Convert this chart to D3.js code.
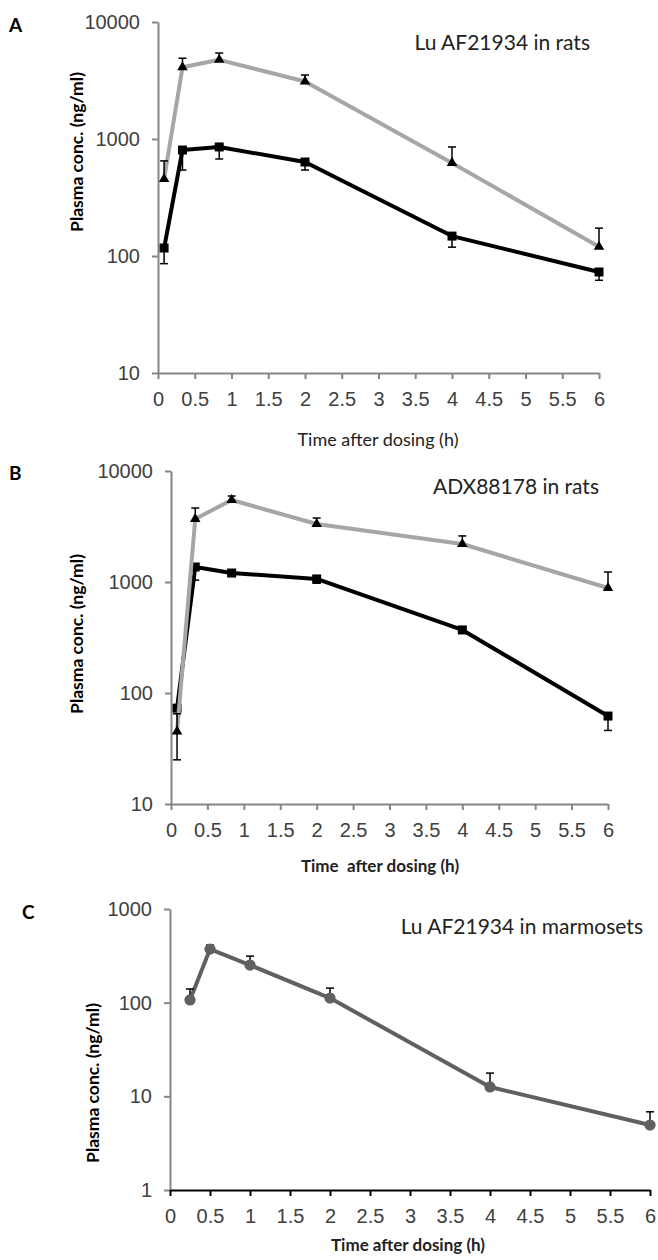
<!DOCTYPE html>
<html>
<head>
<meta charset="utf-8">
<script src="https://cdn.jsdelivr.net/npm/d3@7"></script>
<style>
  body { margin: 0; background: #fff; }
  svg { display: block; font-family: Lato, "Open Sans", sans-serif; }
</style>
</head>
<body>
<svg id="chart" width="658" height="1260"></svg>
<script>
// sampling times (h)
const ratTimes = [0.083, 0.333, 0.833, 2, 4, 6];
const marmosetTimes = [0.25, 0.5, 1, 2, 4, 6];

// A: Lu AF21934 in rats
const luRatHigh = [455, 4100, 4750, 3100, 625, 120];
const luRatHighErr = [195, 800, 680, 420, 230, 53];
const luRatLow = [117, 805, 855, 636, 148, 73];
const luRatLowErr = [31, 262, 180, 93, 29, 11];

// B: ADX88178 in rats
const adxRatHigh = [45, 3700, 5480, 3330, 2200, 883];
const adxRatHighErr = [20, 940, 470, 440, 400, 347];
const adxRatLow = [73, 1365, 1205, 1065, 370, 62];
const adxRatLowErr = [48, 325, 80, 90, 25, 16];

// C: Lu AF21934 in marmosets
const luMarmoset = [107, 373, 252, 112, 12.6, 4.94];
const luMarmosetErr = [33, 39, 62, 31, 5.1, 1.9];

const xTicks = [0, 0.5, 1, 1.5, 2, 2.5, 3, 3.5, 4, 4.5, 5, 5.5, 6];
const ratYTicks = [10, 100, 1000, 10000];
const marmosetYTicks = [1, 10, 100, 1000];

const svg = d3.select("#chart");

const panels = [
    {
        letter: "A", letterX: 9, letterY: 32,
        left: 158, right: 599, top: 22, bottom: 373,
        yDomain: [10, 10000], yTicks: ratYTicks,
        title: "Lu AF21934 in rats", titleX: 590, titleY: 50,
        xLabel: "Time after dosing (h)", xLabelBold: false, xLabelX: 378, xLabelY: 446,
        yLabelX: 83, yLabelY: 152, xAxisColor: "#868686",
        series: [
            { t: ratTimes, v: luRatLow, err: luRatLowErr, dir: -1, color: "#000", symbol: d3.symbolSquare, size: 81, fill: "#000" },
            { t: ratTimes, v: luRatHigh, err: luRatHighErr, dir: 1, color: "#a6a6a6", symbol: d3.symbolTriangle, size: 48, fill: "#000" }
        ]
    },
    {
        letter: "B", letterX: 9, letterY: 480,
        left: 171, right: 608, top: 471, bottom: 804,
        yDomain: [10, 10000], yTicks: ratYTicks,
        title: "ADX88178 in rats", titleX: 599, titleY: 494,
        xLabel: "Time  after dosing (h)", xLabelBold: true, xLabelX: 380, xLabelY: 872,
        yLabelX: 83, yLabelY: 634, xAxisColor: "#868686",
        series: [
            { t: ratTimes, v: adxRatLow, err: adxRatLowErr, dir: -1, color: "#000", symbol: d3.symbolSquare, size: 81, fill: "#000" },
            { t: ratTimes, v: adxRatHigh, err: adxRatHighErr, dir: 1, color: "#a6a6a6", symbol: d3.symbolTriangle, size: 48, fill: "#000" }
        ]
    },
    {
        letter: "C", letterX: 22, letterY: 919,
        left: 170, right: 650, top: 909, bottom: 1190,
        yDomain: [1, 1000], yTicks: marmosetYTicks,
        title: "Lu AF21934 in marmosets", titleX: 643, titleY: 934,
        xLabel: "Time after dosing (h)", xLabelBold: true, xLabelX: 408, xLabelY: 1251,
        yLabelX: 99, yLabelY: 1083, xAxisColor: "#000",
        series: [
            { t: marmosetTimes, v: luMarmoset, err: luMarmosetErr, dir: 1, color: "#606060", symbol: d3.symbolCircle, size: 100, fill: "#606060" }
        ]
    }
];

panels.forEach(p => {
    const x = d3.scaleLinear().domain([0, 6]).range([p.left, p.right]);
    const y = d3.scaleLog().domain(p.yDomain).range([p.bottom, p.top]);

    const g = svg.append("g");

    // y axis
    const yAxis = g.append("g")
        .attr("transform", `translate(${p.left},0)`)
        .call(d3.axisLeft(y).tickValues(p.yTicks).tickFormat(d => String(d)).tickSize(6).tickSizeOuter(0).tickPadding(12));
    yAxis.select(".domain").attr("stroke", "#868686").attr("stroke-width", 2);
    yAxis.selectAll(".tick line").attr("stroke", "#868686").attr("stroke-width", 2);
    yAxis.selectAll(".tick text").attr("fill", "#404040").style("font-size", "20px");

    // x axis
    const xAxis = g.append("g")
        .attr("transform", `translate(0,${p.bottom})`)
        .call(d3.axisBottom(x).tickValues(xTicks).tickFormat(d => String(d)).tickSize(6).tickSizeOuter(0).tickPadding(13));
    xAxis.select(".domain").attr("stroke", p.xAxisColor).attr("stroke-width", 2);
    xAxis.selectAll(".tick line").attr("stroke", p.xAxisColor).attr("stroke-width", 2);
    xAxis.selectAll(".tick text").attr("fill", "#404040").style("font-size", "20px");

    // labels
    g.append("text")
        .attr("x", p.letterX).attr("y", p.letterY)
        .style("font-size", "19px").style("font-weight", "bold")
        .text(p.letter);

    g.append("text")
        .attr("x", p.titleX).attr("y", p.titleY)
        .attr("text-anchor", "end")
        .attr("fill", "#222")
        .style("font-size", "21px")
        .text(p.title);

    g.append("text")
        .attr("x", p.xLabelX).attr("y", p.xLabelY)
        .attr("text-anchor", "middle")
        .attr("fill", "#222")
        .style("font-size", p.xLabelBold ? "17px" : "18px")
        .style("font-weight", p.xLabelBold ? "bold" : "normal")
        .style("white-space", "pre")
        .text(p.xLabel);

    g.append("text")
        .attr("transform", `translate(${p.yLabelX},${p.yLabelY}) rotate(-90)`)
        .attr("text-anchor", "middle")
        .style("font-size", "17.5px")
        .style("font-weight", "bold")
        .text("Plasma conc. (ng/ml)");

    // series
    p.series.forEach(s => {
        const pts = s.t.map((t, i) => ({ t, v: s.v[i], e: s.err[i] }));

        g.append("path")
            .datum(pts)
            .attr("fill", "none")
            .attr("stroke", s.color)
            .attr("stroke-width", 4)
            .attr("stroke-linejoin", "round")
            .attr("d", d3.line().x(d => x(d.t)).y(d => y(d.v)));

        const eb = g.append("g").attr("stroke", "#000").attr("stroke-width", 1.5);
        pts.forEach(d => {
            const y0 = y(d.v);
            const y1 = y(d.v + s.dir * d.e);
            eb.append("line").attr("x1", x(d.t)).attr("x2", x(d.t)).attr("y1", y0).attr("y2", y1);
            eb.append("line").attr("x1", x(d.t) - 4).attr("x2", x(d.t) + 4).attr("y1", y1).attr("y2", y1);
        });

        g.selectAll(null)
            .data(pts)
            .enter().append("path")
            .attr("transform", d => `translate(${x(d.t)},${y(d.v)})`)
            .attr("fill", s.fill)
            .attr("d", d3.symbol(s.symbol, s.size));
    });
});
</script>
</body>
</html>
